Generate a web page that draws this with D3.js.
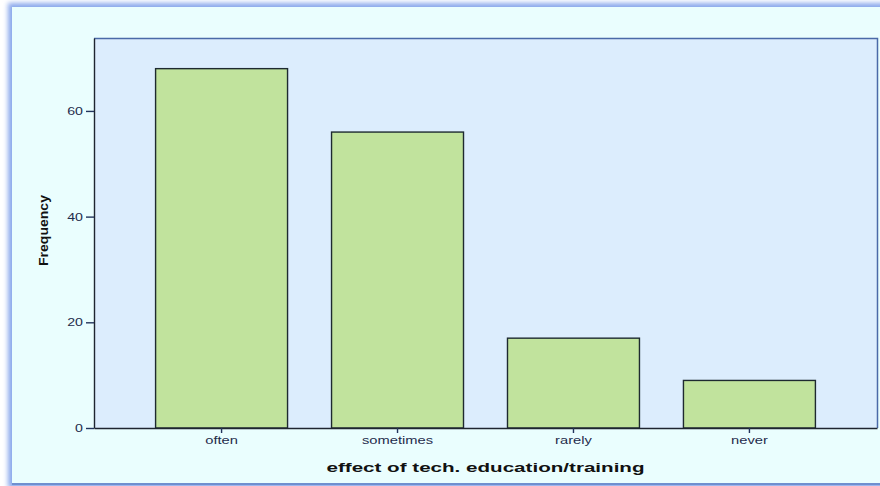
<!DOCTYPE html>
<html>
<head>
<meta charset="utf-8">
<script src="https://cdn.jsdelivr.net/npm/d3@7"></script>
<style>
  html, body { margin: 0; padding: 0; background: #ffffff; }
  svg { display: block; }
</style>
</head>
<body>
<script>
// ---- data ----
const categories = ["often", "sometimes", "rarely", "never"];
const frequencies = [68, 56, 17, 9];
const yTicks = [0, 20, 40, 60];
const xTitle = "effect of tech. education/training";
const yTitle = "Frequency";

const W = 880, H = 486;
const plot = { left: 94, right: 877, top: 38, bottom: 428 };

const svg = d3.select("body").append("svg").attr("width", W).attr("height", H);

const defs = svg.append("defs");
const blur = defs.append("filter").attr("id", "glow").attr("x", "-5%").attr("y", "-5%").attr("width", "110%").attr("height", "110%");
blur.append("feGaussianBlur").attr("stdDeviation", 2.5);

// outer frame with blue glow
svg.append("rect").attr("x", 8).attr("y", 3).attr("width", 880).attr("height", 485)
  .attr("fill", "#8aa8ec").attr("filter", "url(#glow)");
svg.append("rect").attr("x", 12).attr("y", 7).attr("width", 880).attr("height", 476)
  .attr("fill", "#eafefe");
svg.append("line").attr("x1", 12).attr("x2", 880).attr("y1", 484).attr("y2", 484)
  .attr("stroke", "#6f8fcf").attr("stroke-width", 2);

// scales
const x = d3.scaleBand().domain(categories).range([plot.left, plot.right])
  .paddingInner(0.25).paddingOuter(0.35);
const y = d3.scaleLinear().domain([0, 73.8]).range([plot.bottom, plot.top]);

// plot background
svg.append("rect").attr("x", plot.left).attr("y", plot.top)
  .attr("width", plot.right - plot.left).attr("height", plot.bottom - plot.top)
  .attr("fill", "#dcedfd");
// top / right border (blue)
svg.append("path")
  .attr("d", `M${plot.left},${plot.top + 0.5}H${plot.right + 0.5}V${plot.bottom}`)
  .attr("fill", "none").attr("stroke", "#4a6aa8").attr("stroke-width", 1.5);

// bars
svg.append("g").selectAll("rect").data(categories).join("rect")
  .attr("x", d => x(d))
  .attr("y", (d, i) => y(frequencies[i]))
  .attr("width", x.bandwidth())
  .attr("height", (d, i) => y(0) - y(frequencies[i]))
  .attr("fill", "#c1e39d")
  .attr("stroke", "#1e2a30")
  .attr("stroke-width", 1.4);

// y axis
const yAxis = svg.append("g").attr("transform", `translate(${plot.left},0)`)
  .call(d3.axisLeft(y).tickValues(yTicks).tickSize(8).tickSizeOuter(0).tickPadding(3).tickFormat(d3.format("d")));
yAxis.select(".domain").attr("stroke", "#1e2530").attr("stroke-width", 1.4);
yAxis.selectAll(".tick line").attr("stroke", "#23345c").attr("stroke-width", 1.4);
yAxis.selectAll(".tick text")
  .attr("fill", "#1f2c4c")
  .attr("font-family", "'Liberation Sans', Arial, sans-serif")
  .attr("font-size", 10.5)
  .attr("x", 0).attr("dy", "0.35em")
  .attr("transform", "translate(-11,0) scale(1.35,1)")
  .attr("text-anchor", "end");

// x axis
const xAxis = svg.append("g").attr("transform", `translate(0,${plot.bottom})`)
  .call(d3.axisBottom(x).tickSize(5).tickSizeOuter(0).tickPadding(3));
xAxis.select(".domain").attr("stroke", "#1e2530").attr("stroke-width", 1.4);
xAxis.selectAll(".tick line").attr("stroke", "#23345c").attr("stroke-width", 1.4);
xAxis.selectAll(".tick text")
  .attr("fill", "#1f2c4c")
  .attr("font-family", "'Liberation Sans', Arial, sans-serif")
  .attr("font-size", 10.5)
  .attr("y", 0).attr("dy", 0)
  .attr("transform", "translate(0,16) scale(1.4,1)");

// axis titles
svg.append("text")
  .attr("transform", `translate(${(plot.left + plot.right) / 2},${472}) scale(1.55,1)`)
  .attr("text-anchor", "middle")
  .attr("font-family", "'Liberation Sans', Arial, sans-serif")
  .attr("font-weight", "bold")
  .attr("font-size", 13.3)
  .attr("fill", "#111111")
  .text(xTitle);

svg.append("text")
  .attr("transform", `translate(47.5,230.5) rotate(-90) scale(1.08,1)`)
  .attr("text-anchor", "middle")
  .attr("font-family", "'Liberation Sans', Arial, sans-serif")
  .attr("font-weight", "bold")
  .attr("font-size", 13)
  .attr("fill", "#111111")
  .text(yTitle);
</script>
</body>
</html>
